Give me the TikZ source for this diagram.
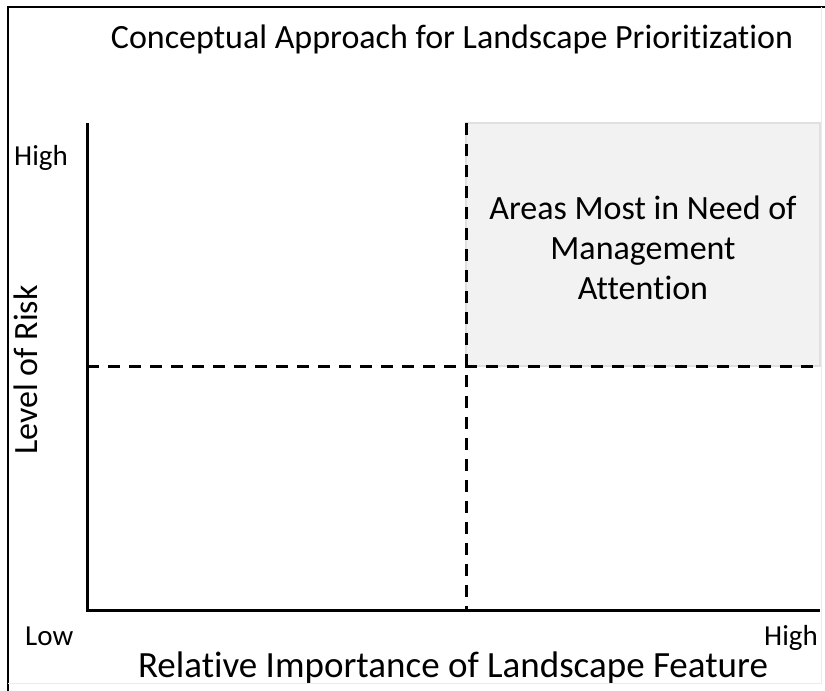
\documentclass[tikz,border=0pt]{standalone}
\usepackage{fontspec}
\setmainfont{Carlito}[Ligatures=NoCommon]
\begin{document}
\begin{tikzpicture}[x=1pt,y=-1pt,
  axisline/.style={line width=3pt},
  divline/.style={line width=3pt,dash pattern=on 12pt off 9pt},
  lbl/.style={inner sep=0pt,font=\fontsize{29}{34}\selectfont},
  axlbl/.style={inner sep=0pt,font=\fontsize{37}{42}\selectfont},
  ylbl/.style={inner sep=0pt,font=\fontsize{34}{40}\selectfont},
  ttl/.style={inner sep=0pt,font=\fontsize{34}{40}\selectfont},
  boxtxt/.style={inner sep=0pt,align=center,font=\fontsize{34}{40}\selectfont}]
\useasboundingbox (0,0) rectangle (825,691);
% frame
\draw[line width=2.5pt] (8,691) -- (8,7) -- (825,7);
\draw[line width=1pt,black!8] (821,7) -- (821,683) -- (8,683);
% shaded quadrant
\fill[black!5,draw=black!12,line width=1.5pt] (466,123) rectangle (820,366);
% coordinates
\coordinate (ytop) at (87,123);
\coordinate (origin) at (87,610);
\coordinate (xend) at (820,610);
\coordinate (vtop) at (466,123);
\coordinate (vbot) at (466,610);
\coordinate (hl) at (87,366);
\coordinate (hr) at (820,366);
\draw[divline] (vtop) -- (vbot);
\draw[divline] (hl) -- (hr);
\draw[axisline] (ytop) -- (origin) -- (xend);
% texts
\node[ttl,anchor=base] (title) at (452,48) {Conceptual Approach for Landscape Prioritization};
\node[boxtxt] (quad) at (643,248) {Areas Most in Need of\\Management\\Attention};
\node[lbl,anchor=base west] (yhigh) at (14,165) {High};
\node[lbl,anchor=base west] (xlow) at (25,645) {Low};
\node[lbl,anchor=base east] (xhigh) at (818,645) {High};
\node[ylbl,rotate=90,anchor=base] (ylabel) at (37,370) {Level of Risk};
\node[axlbl,anchor=base] (xlabel) at (453,677) {Relative Importance of Landscape Feature};
\end{tikzpicture}
\end{document}
